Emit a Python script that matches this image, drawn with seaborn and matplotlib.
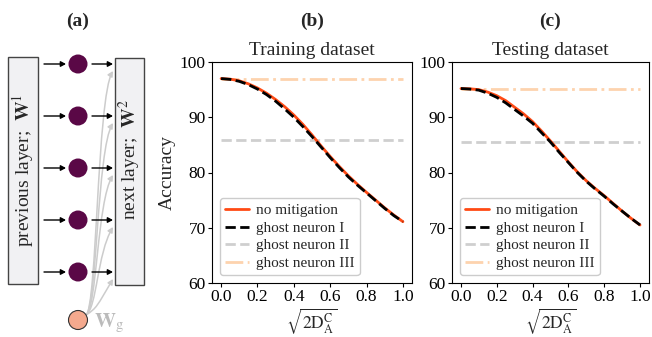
import numpy as np
import pandas as pd
import matplotlib
matplotlib.use("Agg")
import matplotlib.pyplot as plt
import matplotlib.transforms as mtransforms
import seaborn as sns
from matplotlib.patches import Rectangle, Circle, FancyArrowPatch
from matplotlib.path import Path

# ---------------- data ----------------
x_vals = [0.0, 0.05, 0.1, 0.15, 0.2, 0.25, 0.3, 0.35, 0.4, 0.45, 0.5,
          0.55, 0.6, 0.65, 0.7, 0.75, 0.8, 0.85, 0.9, 0.95, 1.0]

train_no_mitigation = [97.0, 96.9, 96.6, 96.05, 95.3, 94.35, 93.2, 91.9, 90.4, 88.7, 86.8,
                       84.8, 82.9, 81.1, 79.4, 77.85, 76.4, 75.0, 73.6, 72.3, 71.1]
train_ghost_I = [97.0, 96.85, 96.5, 95.9, 95.1, 94.1, 92.9, 91.5, 90.0, 88.3, 86.5,
                 84.6, 82.7, 80.9, 79.2, 77.7, 76.3, 74.9, 73.5, 72.2, 71.1]
train_ghost_II = [85.9] * 21
train_ghost_III = [97.0] * 21

test_no_mitigation = [95.2, 95.15, 95.0, 94.55, 93.9, 93.0, 91.8, 90.6, 89.2, 87.5, 85.7,
                      83.8, 81.9, 80.1, 78.5, 77.1, 75.8, 74.4, 73.0, 71.7, 70.5]
test_ghost_I = [95.2, 95.1, 94.9, 94.35, 93.6, 92.6, 91.4, 90.2, 88.9, 87.2, 85.5,
                83.6, 81.8, 80.0, 78.4, 77.0, 75.7, 74.3, 73.0, 71.7, 70.5]
test_ghost_II = [85.5] * 21
test_ghost_III = [95.1] * 21

series_labels = ["no mitigation", "ghost neuron I", "ghost neuron II", "ghost neuron III"]
panel_titles = ["Training dataset", "Testing dataset"]
panel_tags = ["(b)", "(c)"]
y_ticks = [60, 70, 80, 90, 100]
x_ticks = [0.0, 0.2, 0.4, 0.6, 0.8, 1.0]

# ---------------- style ----------------
sns.set_style("ticks")
plt.rcParams["font.family"] = ["Liberation Serif", "DejaVu Serif"]
plt.rcParams["mathtext.fontset"] = "stix"
plt.rcParams["axes.edgecolor"] = "black"
plt.rcParams["xtick.color"] = "black"
plt.rcParams["ytick.color"] = "black"

fig = plt.figure(figsize=(6.52, 3.37), dpi=100)
W, H = 652, 337

# ---------------- panel (a): schematic ----------------
axa = fig.add_axes([0, 0, 160 / W, 1])
axa.set_xlim(0, 160)
axa.set_ylim(H, 0)
axa.axis("off")

axa.add_patch(Rectangle((8, 57), 30, 227, facecolor="#f1f1f3", edgecolor="#444444", lw=1.0))
axa.add_patch(Rectangle((115, 58), 29, 227, facecolor="#f1f1f3", edgecolor="#444444", lw=1.0))
axa.text(23, 170, r"previous layer;  $\mathbf{W}^{1}$", rotation=90, ha="center", va="center", fontsize=14)
axa.text(130, 160, r"next layer;  $\mathbf{W}^{2}$", rotation=90, ha="center", va="center", fontsize=14)

levels = [64, 116, 168, 220, 272]
gx, gy = 78, 320
for yl in levels:
    verts = [(86, gy - 5), (97, gy - 12), (97, yl + 34), (113, yl + 7)]
    path = Path(verts, [Path.MOVETO, Path.CURVE4, Path.CURVE4, Path.CURVE4])
    axa.add_patch(FancyArrowPatch(path=path, arrowstyle="-|>,head_length=3,head_width=1.6",
                                  color="#cccccc", lw=1.1, zorder=1))
for yl in levels:
    axa.add_patch(FancyArrowPatch((44, yl), (66, yl), arrowstyle="-|>,head_length=3,head_width=1.6",
                                  color="black", lw=1.0, shrinkA=0, shrinkB=0, zorder=3))
    axa.add_patch(FancyArrowPatch((92, yl), (113, yl), arrowstyle="-|>,head_length=3,head_width=1.6",
                                  color="black", lw=1.0, shrinkA=0, shrinkB=0, zorder=3))
    axa.add_patch(Circle((78, yl), 9.5, facecolor="#5a0846", edgecolor="none", zorder=4))

axa.add_patch(Circle((gx, gy), 9.5, facecolor="#f4a98e", edgecolor="#333333", lw=0.8, zorder=4))
axa.text(94, 323, r"$\mathbf{W}_{\mathrm{g}}$", color="#bbbbbb", fontsize=15, ha="left", va="center")
fig.text(78 / W, 1 - 21 / H, "(a)", ha="center", va="center", fontsize=14, fontweight="bold")

# ---------------- panels (b), (c) ----------------
colors = ["#ff4a14", "black", "#cfcfcf", "#fdd3ae"]
styles = ["-", "--", "--", "-."]
datasets = [
    [train_no_mitigation, train_ghost_I, train_ghost_II, train_ghost_III],
    [test_no_mitigation, test_ghost_I, test_ghost_II, test_ghost_III],
]
rects = [[212 / W, 1 - 283 / H, 200 / W, 221 / H], [452 / W, 1 - 283 / H, 197 / W, 221 / H]]
zorders = [2, 3, 1, 1]

for k in range(2):
    ax = fig.add_axes(rects[k])
    for s in range(4):
        sns.lineplot(x=x_vals, y=datasets[k][s], ax=ax, color=colors[s], linestyle=styles[s],
                     lw=2.0, label=series_labels[s], zorder=zorders[s])
    ax.set_xlim(-0.05, 1.05)
    ax.set_ylim(60, 100)
    ax.set_xticks(x_ticks)
    ax.set_yticks(y_ticks)
    ax.tick_params(labelsize=12.5, length=3, width=0.8, direction="out", pad=1.5)
    for sp in ax.spines.values():
        sp.set_visible(True)
        sp.set_linewidth(0.8)
        sp.set_color("black")
    ax.set_xlabel(r"$\sqrt{2\mathrm{D}_{\mathrm{A}}^{\mathrm{C}}}$", fontsize=12.5)
    ax.xaxis.label.set_va("bottom")
    ax.xaxis.set_label_coords(0.5, 1.5 / H,
                              transform=mtransforms.blended_transform_factory(ax.transAxes, fig.transFigure))
    if k == 0:
        ax.set_ylabel("Accuracy", fontsize=14, labelpad=3)
    else:
        ax.set_ylabel("")
    ax.set_title(panel_titles[k], fontsize=14, pad=5)
    tr = mtransforms.blended_transform_factory(ax.transAxes, fig.transFigure)
    ax.text(0.5, 1 - 21 / H, panel_tags[k], transform=tr, fontsize=14, fontweight="bold",
            ha="center", va="center")
    ax.legend(loc="lower left", fontsize=11, handlelength=1.6, handletextpad=0.4,
              labelspacing=0.25, borderpad=0.35, borderaxespad=0.5, frameon=True,
              fancybox=True, edgecolor="#cccccc", framealpha=1.0)

fig.savefig("out.png", dpi=100)
